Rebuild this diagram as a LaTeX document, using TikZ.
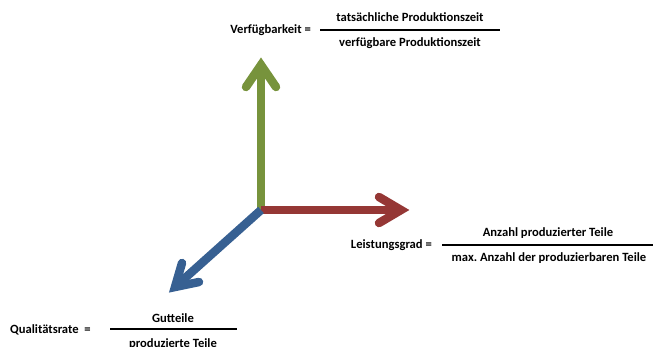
\documentclass[tikz,border=0pt]{standalone}
\usepackage{fontspec}
\setmainfont{Carlito}
\definecolor{axgreen}{HTML}{77933C}
\definecolor{axred}{HTML}{953735}
\definecolor{axblue}{HTML}{376092}
\begin{document}
\begin{tikzpicture}[x=1pt,y=-1pt,
  lbl/.style={font=\bfseries\fontsize{12.6}{14}\selectfont, inner sep=0pt},
  axis/.style={line width=8.5pt, line cap=round, line join=miter, miter limit=10},
  fracline/.style={line width=1.3pt}]
\useasboundingbox (0,0) rectangle (653,346);
% axes
\coordinate (O) at (261,210);
% green
\coordinate (gV) at (261,65);
\coordinate (gA) at (246,87);
\coordinate (gB) at (276,87);
\draw[axis, axgreen, line cap=butt] (O) -- (gV);
\draw[axis, axgreen] (gA) -- (gV) -- (gB);
% red
\coordinate (rV) at (401,210);
\coordinate (rA) at (379,197);
\coordinate (rB) at (379,223);
\draw[axis, axred, line cap=butt] (O) -- (rV);
\draw[axis, axred] (rA) -- (rV) -- (rB);
% blue
\coordinate (bV) at (175,287);
\coordinate (bA) at (182,263);
\coordinate (bB) at (199,282);
\draw[axis, axblue, line cap=butt] (O) -- (bV);
\draw[axis, axblue] (bA) -- (bV) -- (bB);
% Verfuegbarkeit
\node[lbl, anchor=east] (vl) at (311,30) {Verfügbarkeit =};
\coordinate (v1) at (320,30);
\coordinate (v2) at (500,30);
\draw[fracline] (v1) -- (v2);
\node[lbl] (vn) at (410,17) {tatsächliche Produktionszeit};
\node[lbl] (vd) at (410,43) {verfügbare Produktionszeit};
% Leistungsgrad
\node[lbl, anchor=east] (ll) at (432,245) {Leistungsgrad =};
\coordinate (l1) at (442,245);
\coordinate (l2) at (653,245);
\draw[fracline] (l1) -- (l2);
\node[lbl] (ln) at (548,233) {Anzahl produzierter Teile};
\node[lbl] (ld) at (549,258) {max.\ Anzahl der produzierbaren Teile};
% Qualitaetsrate
\node[lbl, anchor=west] (ql) at (10,330) {Qualitätsrate\ \ =};
\coordinate (q1) at (110,329);
\coordinate (q2) at (237,329);
\draw[fracline] (q1) -- (q2);
\node[lbl] (qn) at (173,318) {Gutteile};
\node[lbl] (qd) at (173,344) {produzierte Teile};
\end{tikzpicture}
\end{document}
